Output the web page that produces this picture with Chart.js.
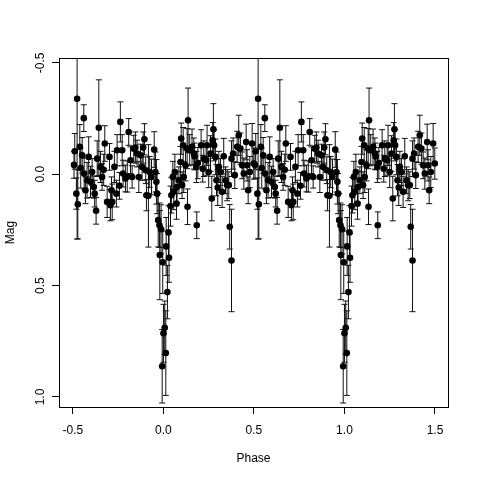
<!DOCTYPE html>
<html>
<head>
<meta charset="utf-8">
<script src="https://cdn.jsdelivr.net/npm/chart.js@4"></script>
<style>
  html, body { margin: 0; padding: 0; background: #fff; }
  canvas { display: block; }
</style>
</head>
<body>
<canvas id="lc" width="480" height="480"></canvas>
<script>
// one cycle of the folded light curve, phase in [-0.5, 0.5)
const phase = [
  -0.494, -0.490, -0.481, -0.477, -0.473, -0.462, -0.457, -0.449, -0.440, -0.438,
  -0.431, -0.422, -0.413, -0.403, -0.394, -0.385, -0.380, -0.372, -0.366, -0.357,
  -0.348, -0.339, -0.330, -0.324, -0.311, -0.298, -0.293, -0.287, -0.283, -0.271,
  -0.260, -0.256, -0.243, -0.238, -0.228, -0.223, -0.210, -0.200, -0.192, -0.182,
  -0.173, -0.164, -0.155, -0.146, -0.136, -0.127, -0.118, -0.112, -0.105, -0.098,
  -0.094, -0.083, -0.076, -0.066, -0.051, -0.044, -0.039, -0.035, -0.029, -0.022,
  -0.020, -0.013, -0.007, -0.004, 0.000, 0.007, 0.013, 0.015, 0.022, 0.028,
  0.031, 0.039, 0.044, 0.052, 0.057, 0.063, 0.072, 0.075, 0.085, 0.094,
  0.098, 0.103, 0.109, 0.112, 0.122, 0.131, 0.133, 0.136, 0.145, 0.158,
  0.168, 0.172, 0.182, 0.184, 0.190, 0.208, 0.217, 0.223, 0.236, 0.241,
  0.250, 0.260, 0.267, 0.272, 0.276, 0.280, 0.287, 0.293, 0.300, 0.306,
  0.315, 0.324, 0.333, 0.343, 0.352, 0.361, 0.366, 0.376, 0.376, 0.385,
  0.394, 0.407, 0.416, 0.425, 0.435, 0.444, 0.457, 0.462, 0.468, 0.477,
  0.490, 0.499
];
const mag = [
  -0.042, -0.103, 0.087, -0.339, 0.135, -0.123, -0.028, -0.085, -0.252, -0.003,
  0.072, 0.027, -0.078, 0.034, -0.010, 0.057, 0.087, 0.164, -0.070, -0.209,
  -0.033, 0.012, -0.020, -0.138, 0.124, -0.078, 0.139, 0.072, 0.124, -0.033,
  0.087, -0.108, 0.052, -0.235, -0.108, -0.003, 0.019, 0.010, -0.190, -0.063,
  0.012, -0.115, -0.120, -0.093, 0.012, -0.085, -0.033, -0.120, -0.157, -0.018,
  0.094, 0.097, -0.010, 0.012, -0.111, -0.010, 0.034, 0.087, 0.206, 0.229,
  0.363, 0.247, 0.862, 0.395, 0.714, 0.689, 0.803, 0.324, 0.529, 0.261,
  0.375, 0.143, 0.094, 0.012, 0.079, -0.010, 0.132, 0.057, 0.027, -0.055,
  -0.160, 0.049, -0.130, 0.012, -0.040, -0.115, 0.146, -0.242, -0.108, -0.123,
  -0.093, -0.080, -0.033, 0.229, -0.050, -0.130, -0.025, -0.070, -0.063, -0.130,
  -0.010, -0.093, 0.109, -0.152, -0.202, -0.130, -0.078, 0.027, 0.060, -0.033,
  -0.010, 0.079, -0.081, 0.027, 0.049, 0.049, 0.236, 0.387, -0.070, -0.093,
  0.004, -0.123, -0.175, -0.115, -0.040, -0.003, -0.145, -0.040, 0.072, -0.010,
  -0.138, -0.048
];
const magErr = [
  0.06, 0.08, 0.07, 0.63, 0.155, 0.10, 0.09, 0.08, 0.06, 0.07,
  0.06, 0.08, 0.09, 0.07, 0.06, 0.05, 0.06, 0.06, 0.08, 0.215,
  0.07, 0.06, 0.07, 0.08, 0.07, 0.06, 0.07, 0.06, 0.08, 0.07,
  0.06, 0.07, 0.06, 0.09, 0.07, 0.06, 0.06, 0.07, 0.06, 0.06,
  0.05, 0.06, 0.07, 0.06, 0.07, 0.05, 0.06, 0.07, 0.07, 0.06,
  0.07, 0.23, 0.07, 0.08, 0.08, 0.09, 0.10, 0.09, 0.12, 0.10,
  0.20, 0.11, 0.165, 0.14, 0.13, 0.12, 0.19, 0.13, 0.12, 0.12,
  0.11, 0.09, 0.08, 0.07, 0.08, 0.08, 0.07, 0.07, 0.06, 0.07,
  0.07, 0.06, 0.08, 0.07, 0.07, 0.09, 0.08, 0.145, 0.07, 0.08,
  0.07, 0.06, 0.07, 0.06, 0.07, 0.07, 0.06, 0.08, 0.07, 0.09,
  0.07, 0.08, 0.10, 0.08, 0.115, 0.07, 0.08, 0.07, 0.08, 0.07,
  0.06, 0.07, 0.08, 0.06, 0.07, 0.06, 0.10, 0.23, 0.08, 0.07,
  0.06, 0.07, 0.09, 0.07, 0.06, 0.07, 0.08, 0.07, 0.06, 0.07,
  0.09, 0.07
];
const xTicks = [-0.5, 0.0, 0.5, 1.0, 1.5];
const yTicks = [-0.5, 0.0, 0.5, 1.0];

// plot the cycle twice: at phase and phase + 1
const points = [];
for (let k = 0; k < 2; k++) {
  phase.forEach((p, i) => points.push({ x: p + k, y: mag[i], e: magErr[i] }));
}

const font = '"Liberation Sans", Arial, Helvetica, sans-serif';

const errorBars = {
  id: "errorBars",
  beforeDatasetsDraw(chart) {
    const { ctx, chartArea: a, scales: { x, y } } = chart;
    ctx.save();
    ctx.beginPath();
    ctx.rect(a.left, a.top, a.right - a.left, a.bottom - a.top);
    ctx.clip();
    ctx.strokeStyle = "#111";
    ctx.lineWidth = 1;
    points.forEach((pt) => {
      const px = x.getPixelForValue(pt.x);
      const y1 = y.getPixelForValue(pt.y - pt.e);
      const y2 = y.getPixelForValue(pt.y + pt.e);
      ctx.beginPath();
      ctx.moveTo(px, y1);
      ctx.lineTo(px, y2);
      ctx.moveTo(px - 3, y1);
      ctx.lineTo(px + 3, y1);
      ctx.moveTo(px - 3, y2);
      ctx.lineTo(px + 3, y2);
      ctx.stroke();
    });
    ctx.restore();
  },
  afterDraw(chart) {
    const { ctx, chartArea: a, scales: { y } } = chart;
    ctx.save();
    ctx.strokeStyle = "#000";
    ctx.lineWidth = 1;
    ctx.strokeRect(a.left + 0.5, a.top + 0.5, a.right - a.left, a.bottom - a.top);
    ctx.fillStyle = "#000";
    ctx.font = "12px " + font;
    ctx.textAlign = "center";
    ctx.textBaseline = "middle";
    // rotated y tick labels, like R's default las = 0
    yTicks.forEach((v) => {
      ctx.save();
      ctx.translate(41, y.getPixelForValue(v));
      ctx.rotate(-Math.PI / 2);
      ctx.fillText(v.toFixed(1), 0, 0);
      ctx.restore();
    });
    ctx.fillText("Phase", (a.left + a.right) / 2, 459);
    ctx.save();
    ctx.translate(11, (a.top + a.bottom) / 2);
    ctx.rotate(-Math.PI / 2);
    ctx.fillText("Mag", 0, 0);
    ctx.restore();
    ctx.restore();
  },
};

new Chart(document.getElementById("lc"), {
  type: "scatter",
  data: {
    datasets: [
      {
        data: points,
        backgroundColor: "#000",
        borderWidth: 0,
        pointRadius: 3.3,
        pointHoverRadius: 3.3,
      },
    ],
  },
  options: {
    responsive: false,
    animation: false,
    devicePixelRatio: 1,
    layout: { padding: { left: 0, top: 58, right: 32, bottom: 0 } },
    plugins: { legend: { display: false }, tooltip: { enabled: false } },
    scales: {
      x: {
        type: "linear",
        min: -0.577,
        max: 1.572,
        afterBuildTicks: (s) => { s.ticks = xTicks.map((v) => ({ value: v })); },
        afterFit: (s) => { s.height = 73; },
        border: { display: false },
        grid: { drawOnChartArea: false, drawTicks: true, tickLength: 7, color: "#000" },
        ticks: {
          color: "#000",
          padding: 9,
          font: { family: font, size: 12 },
          callback: (v) => Number(v).toFixed(1),
          maxRotation: 0,
        },
      },
      y: {
        type: "linear",
        reverse: true,
        min: -0.522,
        max: 1.045,
        afterBuildTicks: (s) => { s.ticks = yTicks.map((v) => ({ value: v })); },
        afterFit: (s) => { s.width = 59; },
        border: { display: false },
        grid: { drawOnChartArea: false, drawTicks: true, tickLength: 7, color: "#000" },
        ticks: { display: false },
      },
    },
  },
  plugins: [errorBars],
});
</script>
</body>
</html>
